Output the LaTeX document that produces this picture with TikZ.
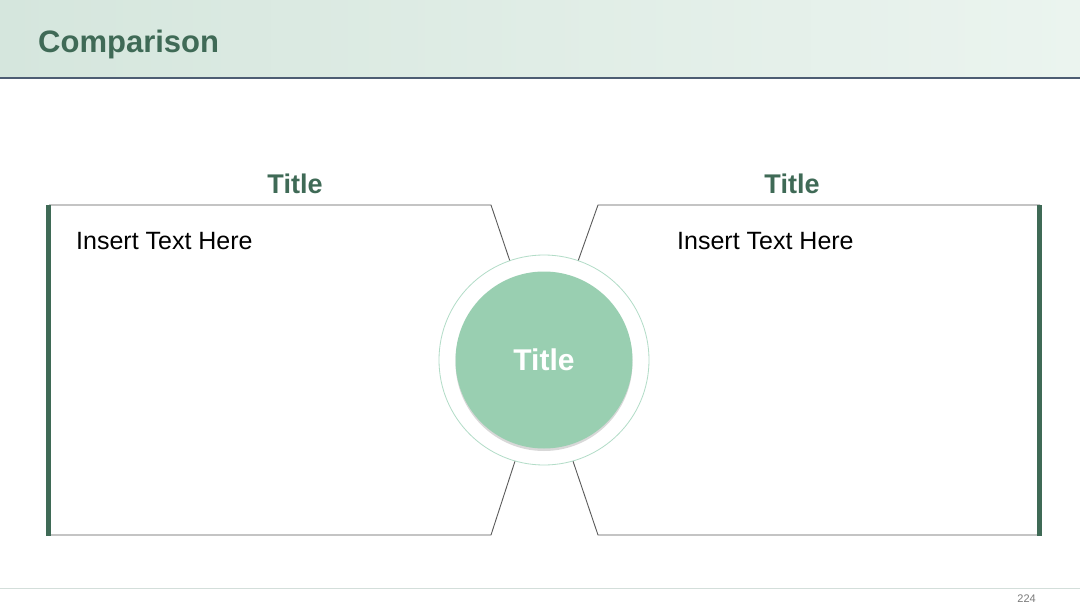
\documentclass[tikz,border=0pt]{standalone}
\usepackage{fontspec}
\setmainfont{Liberation Sans}
\usetikzlibrary{shadows}
\definecolor{hdrL}{HTML}{D5E6DD}
\definecolor{hdrR}{HTML}{EBF4EF}
\definecolor{hdrline}{HTML}{4D5D73}
\definecolor{titlegreen}{HTML}{3F6A56}
\definecolor{barcolor}{HTML}{3F6A56}
\definecolor{boxline}{HTML}{5A5A5A}
\definecolor{ringc}{HTML}{B2DCC7}
\definecolor{innerc}{HTML}{99CFB1}
\definecolor{footline}{HTML}{D3DEDA}
\definecolor{pagenum}{HTML}{7A7A7A}
\tikzset{
  boxedge/.style={draw=boxline, line width=0.9pt},
  sidebar/.style={fill=barcolor},
  coltitle/.style={font=\fontsize{27}{30}\selectfont\bfseries, text=titlegreen},
  bodytext/.style={font=\fontsize{25}{28}\selectfont, text=black, anchor=base west},
}
\begin{document}
\begin{tikzpicture}[x=1pt,y=-1pt]
\useasboundingbox (0,0) rectangle (1080,608);
\fill[white] (0,0) rectangle (1080,608);
% header
\shade[left color=hdrL, right color=hdrR] (0,0) rectangle (1080,78);
\draw[hdrline, line width=2pt] (0,78) -- (1080,78);
\node[anchor=base west, inner sep=0, font=\fontsize{31}{34}\selectfont\bfseries, text=titlegreen] (head) at (38,52) {Comparison};
% footer
\draw[footline, line width=1pt] (0,588) -- (1080,588);
\node[anchor=base east, inner sep=0, font=\fontsize{11}{13}\selectfont, text=pagenum] (pg) at (1036,602) {224};
% centre circle
\node[circle, draw=ringc, line width=0.8pt, minimum size=210pt, inner sep=0] (ring) at (544,360) {};
\node[circle, fill=innerc, minimum size=177pt, inner sep=0, text=white,
      font=\fontsize{30}{34}\selectfont\bfseries,
      drop shadow={shadow xshift=0pt, shadow yshift=-2.5pt, opacity=0.3, fill=gray}] (core) at (544,360) {Title};
% left box
\coordinate (ltr) at (491,205);
\coordinate (lbr) at (491,535);
\coordinate (ltl) at (49,205);
\coordinate (lbl) at (49,535);
\draw[boxedge] (ring.109) -- (ltr) -- (ltl);
\draw[boxedge] (lbl) -- (lbr) -- (ring.254);
\fill[sidebar] (46,204.5) rectangle (51,535.5);
% right box
\coordinate (rtl) at (598,205);
\coordinate (rbl) at (598,535);
\coordinate (rtr) at (1040,205);
\coordinate (rbr) at (1040,535);
\draw[boxedge] (ring.71) -- (rtl) -- (rtr);
\draw[boxedge] (rbr) -- (rbl) -- (ring.286);
\fill[sidebar] (1037,204.5) rectangle (1042,535.5);
% titles
\node[coltitle] (lt) at (295,184) {Title};
\node[coltitle] (rt) at (792,184) {Title};
% texts
\node[bodytext, inner sep=0] (ltxt) at (76,249) {Insert Text Here};
\node[bodytext, inner sep=0] (rtxt) at (677,249) {Insert Text Here};
\end{tikzpicture}
\end{document}
